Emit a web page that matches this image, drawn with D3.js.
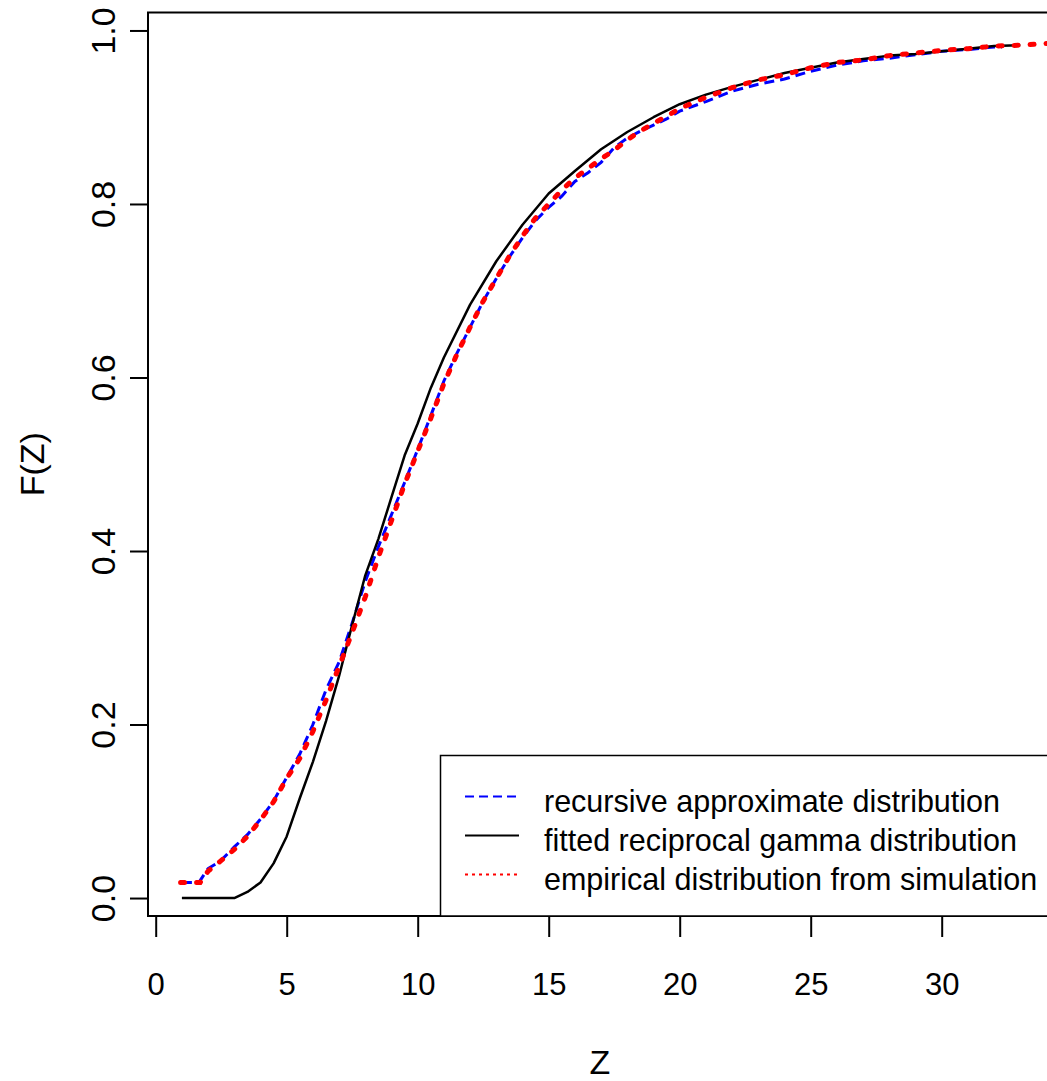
<!DOCTYPE html>
<html>
<head>
<meta charset="utf-8">
<script src="https://cdn.jsdelivr.net/npm/d3@7"></script>
<style>
  html, body { margin: 0; padding: 0; background: #fff; }
  svg { display: block; }
  text { font-family: "Liberation Sans", Arial, sans-serif; fill: #000; }
</style>
</head>
<body>
<svg id="chart" width="1047" height="1081"></svg>
<script>
// ---- data ----
const xTicks = [0, 5, 10, 15, 20, 25, 30];
const yTicks = [0.0, 0.2, 0.4, 0.6, 0.8, 1.0];

const zRecursive = [1, 1.65, 2, 2.45, 3, 3.5, 4, 4.5, 5, 5.5, 6, 6.5, 7, 7.5, 8, 8.5, 9, 9.5, 10, 10.5, 11, 11.5, 12, 12.5, 13, 13.5, 14, 14.5, 15, 15.5, 16, 16.5, 17, 17.5, 18, 18.5, 19, 19.5, 20, 21, 22, 23, 24, 25, 26, 27, 28, 29, 30, 31, 32, 32.3];
const fRecursive = [0.018, 0.018, 0.034, 0.042, 0.059, 0.073, 0.091, 0.112, 0.139, 0.166, 0.200, 0.240, 0.272, 0.317, 0.365, 0.405, 0.442, 0.479, 0.517, 0.556, 0.596, 0.628, 0.658, 0.688, 0.714, 0.739, 0.761, 0.781, 0.796, 0.809, 0.826, 0.836, 0.848, 0.865, 0.876, 0.884, 0.891, 0.898, 0.907, 0.918, 0.930, 0.938, 0.944, 0.953, 0.960, 0.965, 0.968, 0.972, 0.976, 0.978, 0.981, 0.981];

const zGamma = [1, 1.5, 2, 2.5, 3, 3.5, 4, 4.5, 5, 5.5, 6, 6.5, 7, 7.5, 8, 8.5, 9, 9.5, 10, 10.5, 11, 12, 13, 14, 15, 16, 17, 18, 19, 20, 21, 22, 23, 24, 25, 26, 27, 28, 29, 30, 31, 32, 33];
const fGamma = [0, 0, 0, 0, 0, 0.007, 0.018, 0.040, 0.071, 0.115, 0.157, 0.204, 0.256, 0.315, 0.372, 0.414, 0.462, 0.510, 0.547, 0.588, 0.623, 0.684, 0.734, 0.776, 0.812, 0.838, 0.863, 0.883, 0.900, 0.915, 0.926, 0.935, 0.943, 0.951, 0.957, 0.963, 0.967, 0.971, 0.973, 0.976, 0.979, 0.982, 0.983];

const zEmpirical = [0.95, 1.7, 2, 2.45, 3, 3.5, 4, 4.5, 5, 5.5, 6, 6.5, 7, 7.5, 8, 8.5, 9, 9.5, 10, 10.5, 11, 11.5, 12, 12.5, 13, 13.5, 14, 14.5, 15, 15.5, 16, 16.5, 17, 17.5, 18, 18.5, 19, 19.5, 20, 21, 22, 23, 24, 25, 26, 27, 28, 29, 30, 31, 32, 33, 34, 35];
const fEmpirical = [0.018, 0.018, 0.031, 0.042, 0.056, 0.071, 0.090, 0.111, 0.138, 0.161, 0.192, 0.228, 0.267, 0.306, 0.347, 0.393, 0.435, 0.477, 0.515, 0.553, 0.593, 0.627, 0.658, 0.688, 0.714, 0.740, 0.763, 0.784, 0.800, 0.816, 0.830, 0.841, 0.852, 0.862, 0.874, 0.884, 0.893, 0.901, 0.910, 0.923, 0.934, 0.943, 0.949, 0.957, 0.963, 0.966, 0.971, 0.974, 0.977, 0.979, 0.982, 0.983, 0.985, 0.986];

const legendLabels = ["recursive approximate distribution", "fitted reciprocal gamma distribution", "empirical distribution from simulation"];
const xLabel = "Z";
const yLabel = "F(Z)";

// ---- layout ----
const svg = d3.select("#chart");
const pLeft = 148, pRight = 1052, pTop = 12.5, pBottom = 916;

const x = d3.scaleLinear().domain([-0.294, 34.21]).range([pLeft, pRight]);
const y = d3.scaleLinear().domain([-0.0207, 1.0207]).range([pBottom, pTop]);

svg.append("defs").append("clipPath").attr("id", "plotclip")
  .append("rect").attr("x", pLeft).attr("y", pTop).attr("width", pRight - pLeft).attr("height", pBottom - pTop);

const line = d3.line().x(d => x(d[0])).y(d => y(d[1]));
const zip = (a, b) => a.map((v, i) => [v, b[i]]);

const plot = svg.append("g").attr("clip-path", "url(#plotclip)");

plot.append("path").datum(zip(zRecursive, fRecursive))
  .attr("d", line).attr("fill", "none").attr("stroke", "#0000FF")
  .attr("stroke-width", 3).attr("stroke-dasharray", "10,6");

plot.append("path").datum(zip(zGamma, fGamma))
  .attr("d", line).attr("fill", "none").attr("stroke", "#000")
  .attr("stroke-width", 2.5).attr("stroke-linejoin", "round");

plot.append("path").datum(zip(zEmpirical, fEmpirical))
  .attr("d", line).attr("fill", "none").attr("stroke", "#FF0000")
  .attr("stroke-width", 5).attr("stroke-linecap", "round").attr("stroke-dasharray", "4,12");

// ---- axes ----
const xAxis = svg.append("g").attr("transform", `translate(0,${pBottom})`)
  .call(d3.axisBottom(x).tickValues(xTicks).tickSize(21).tickPadding(36).tickFormat(d3.format("d")));
xAxis.select(".domain").remove();
xAxis.selectAll("line").attr("stroke", "#000").attr("stroke-width", 2);
xAxis.selectAll("text").attr("font-size", 31).attr("font-family", "Liberation Sans, Arial, sans-serif").attr("fill", "#000");

const yAxis = svg.append("g").attr("transform", `translate(${pLeft},0)`)
  .call(d3.axisLeft(y).tickValues(yTicks).tickSize(18).tickFormat(d3.format(".1f")));
yAxis.select(".domain").remove();
yAxis.selectAll("line").attr("stroke", "#000").attr("stroke-width", 2);
yAxis.selectAll("text")
  .attr("x", null).attr("dy", null).attr("y", null)
  .attr("text-anchor", "middle")
  .attr("transform", "translate(-33,0) rotate(-90)")
  .attr("font-size", 34).attr("font-family", "Liberation Sans, Arial, sans-serif").attr("fill", "#000");

// ---- frame ----
svg.append("rect").attr("x", pLeft).attr("y", pTop).attr("width", pRight - pLeft).attr("height", pBottom - pTop)
  .attr("fill", "none").attr("stroke", "#000").attr("stroke-width", 2);

// ---- axis titles ----
svg.append("text").attr("x", (pLeft + pRight) / 2).attr("y", 1074).attr("text-anchor", "middle")
  .attr("font-size", 34).text(xLabel);
svg.append("text").attr("transform", `translate(44,${(pTop + pBottom) / 2}) rotate(-90)`)
  .attr("text-anchor", "middle").attr("font-size", 34).text(yLabel);

// ---- legend ----
const lg = svg.append("g");
lg.append("rect").attr("x", 440.5).attr("y", 755.5).attr("width", 700).attr("height", pBottom - 755.5)
  .attr("fill", "#fff").attr("stroke", "#000").attr("stroke-width", 1.5);
const legendStyles = [
  { color: "#0000FF", dash: "9,5", w: 2 },
  { color: "#000", dash: null, w: 2 },
  { color: "#FF0000", dash: "3,4", w: 2 }
];
const rowBase = [811.5, 850.5, 889.5];
legendLabels.forEach((t, i) => {
  const s = legendStyles[i];
  const l = lg.append("line").attr("x1", 465).attr("x2", 519)
    .attr("y1", rowBase[i] - 15).attr("y2", rowBase[i] - 15)
    .attr("stroke", s.color).attr("stroke-width", s.w);
  if (s.dash) l.attr("stroke-dasharray", s.dash);
  lg.append("text").attr("x", 544).attr("y", rowBase[i]).attr("font-size", 30.5).text(t);
});
</script>
</body>
</html>
